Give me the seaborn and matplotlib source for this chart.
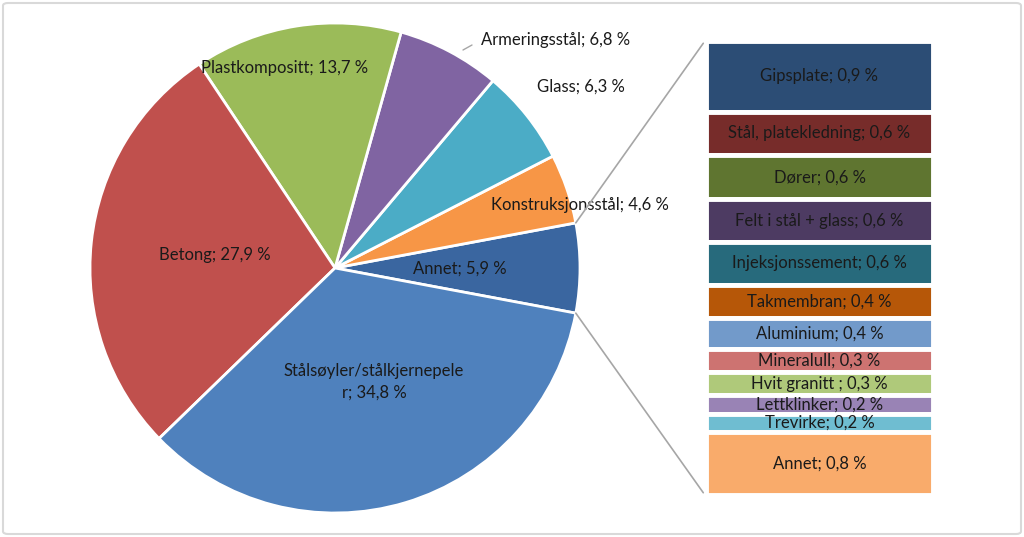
import numpy as np
import matplotlib
matplotlib.use("Agg")
import matplotlib.pyplot as plt
from matplotlib.patches import ConnectionPatch, FancyBboxPatch
import seaborn as sns

# ---------------- data ----------------
pie_labels = ["Annet", "Konstruksjonsstål", "Glass", "Armeringsstål",
              "Plastkompositt", "Betong", "Stålsøyler/stålkjernepele\nr"]
pie_values = [5.9, 4.6, 6.3, 6.8, 13.7, 27.9, 34.8]
pie_colors = ["#3A66A0", "#F79646", "#4BACC6", "#8064A2",
              "#9BBB59", "#C0504D", "#4F81BD"]

bar_labels = ["Gipsplate", "Stål, platekledning", "Dører", "Felt i stål + glass",
              "Injeksjonssement", "Takmembran", "Aluminium", "Mineralull",
              "Hvit granitt ", "Lettklinker", "Trevirke", "Annet"]
bar_values = [0.92, 0.57, 0.57, 0.56, 0.555, 0.44, 0.40, 0.30, 0.30, 0.24, 0.24, 0.82]
bar_colors = ["#2C4D75", "#772C2A", "#5F7530", "#4D3B62", "#276A7C", "#B65708",
              "#729ACA", "#CD7371", "#AFC97A", "#9983B5", "#6FBDD1", "#F9AB6B"]

def fmt(v):
    return f"{v:.1f}".replace(".", ",") + " %"

# ---------------- style ----------------
sns.set_theme(style="white")
plt.rcParams["font.family"] = ["Lato", "DejaVu Sans"]
FS = 12

W, H = 1024, 537
fig = plt.figure(figsize=(W / 100, H / 100), dpi=100)
fig.patch.set_facecolor("white")

def px_axes(x0, y0, x1, y1):
    return fig.add_axes([x0 / W, 1 - y1 / H, (x1 - x0) / W, (y1 - y0) / H])

# ---------------- pie ----------------
cx, cy, r = 335, 268, 245
axp = px_axes(cx - r, cy - r, cx + r, cy + r)
half = pie_values[0] / sum(pie_values) * 360 / 2
wedges, _ = axp.pie(pie_values, colors=pie_colors, startangle=-half,
                    counterclock=True, radius=1,
                    wedgeprops=dict(edgecolor="white", linewidth=2))
axp.set_xlim(-1, 1)
axp.set_ylim(-1, 1)
axp.set_aspect("equal")
axp.axis("off")

def to_pie(px, py):
    return ((px - cx) / r, (cy - py) / r)

label_pos = [(460, 269), (580, 205), (581, 87), (556, 40),
             (285, 68), (215, 255), (374, 382)]
for lab, val, (px, py) in zip(pie_labels, pie_values, label_pos):
    x, y = to_pie(px, py)
    axp.text(x, y, f"{lab}; {fmt(val)}", ha="center", va="center",
             fontsize=FS, color="#1A1A1A", linespacing=1.4, clip_on=False)
# leader line for Armeringsstål
x0, y0 = to_pie(463, 50)
x1, y1 = to_pie(472, 45)
axp.plot([x0, x1], [y0, y1], color="#A6A6A6", lw=1, clip_on=False)

# ---------------- stacked bar ----------------
axb = px_axes(706, 41, 933, 495)
bottoms = np.concatenate([[0], np.cumsum(bar_values)[:-1]])
axb.bar([0] * len(bar_values), bar_values, bottom=bottoms, width=1.0,
        color=bar_colors, edgecolor="white", linewidth=3.5)
for lab, val, b in zip(bar_labels, bar_values, bottoms):
    axb.text(0, b + val / 2, f"{lab}; {fmt(val)}", ha="center", va="center",
             fontsize=FS, color="#1A1A1A")
axb.set_xlim(-0.5, 0.5)
axb.set_ylim(sum(bar_values), 0)
axb.axis("off")

# ---------------- connector lines ----------------
ang = np.deg2rad(half)
for sgn, yfrac in [(1, 0.995), (-1, 0.005)]:
    con = ConnectionPatch(xyA=(np.cos(ang), sgn * np.sin(ang)), coordsA=axp.transData,
                          xyB=(-0.012, yfrac), coordsB=axb.transAxes,
                          color="#A6A6A6", lw=1.2)
    fig.add_artist(con)

# ---------------- border ----------------
border = FancyBboxPatch((3 / W, 3 / H), 1 - 6 / W, 1 - 6 / H,
                        boxstyle="round,pad=0,rounding_size=0.005",
                        transform=fig.transFigure, fill=False,
                        edgecolor="#D9D9D9", linewidth=1.5)
fig.add_artist(border)

fig.savefig("out.png", dpi=100, facecolor="white")
